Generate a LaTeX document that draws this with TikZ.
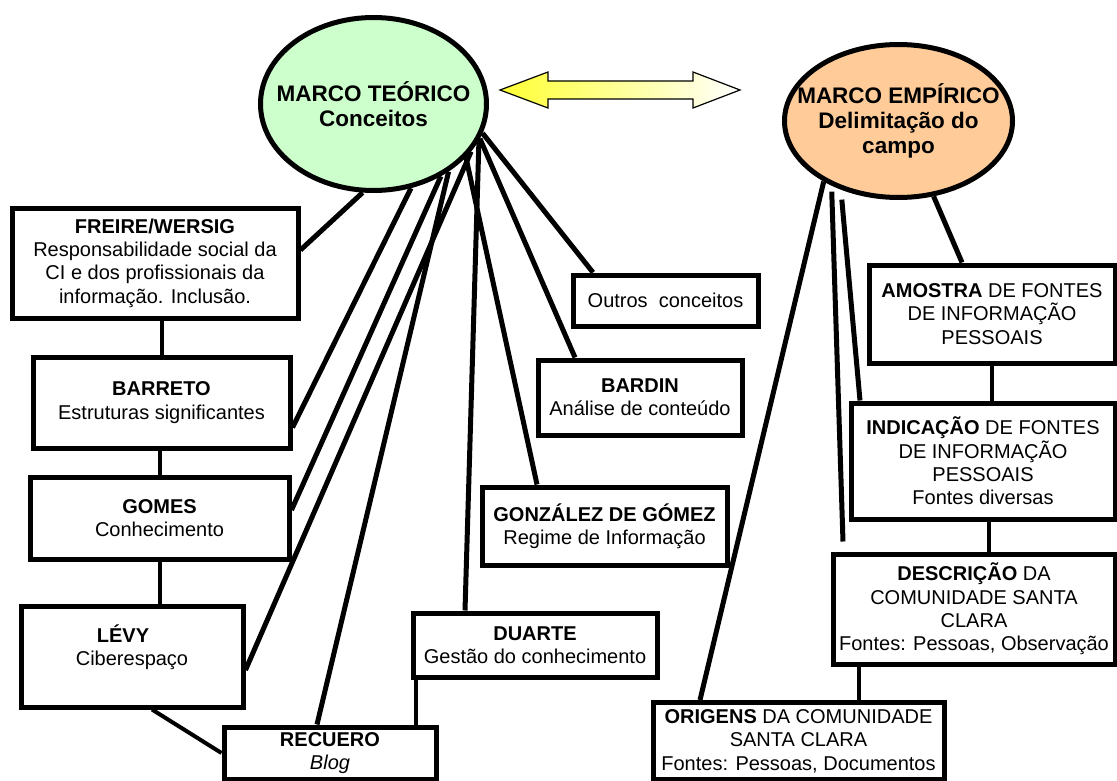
\documentclass[tikz,border=0pt]{standalone}
\usepackage{fontspec}
\setmainfont{Liberation Sans}
\usetikzlibrary{shapes.geometric}
\definecolor{teoricogreen}{RGB}{204,255,204}
\definecolor{empiricoorange}{RGB}{255,204,153}
\definecolor{arrowyellow}{RGB}{255,255,51}
\begin{document}
\begin{tikzpicture}[x=1pt,y=-1pt,line join=miter,
	box/.style={draw=black,line width=5pt,fill=white,align=center,inner sep=2pt,font=\fontsize{20}{23.3}\selectfont},
	marco/.style={ellipse,draw=black,line width=5pt,align=center,inner xsep=-40pt,inner ysep=0pt,font=\fontsize{22.5}{25}\selectfont\bfseries},
	ray/.style={line width=5pt},
	link/.style={line width=4pt}]
	\useasboundingbox[fill=white] (0,0) rectangle (1117,781);
	% elipses
	\node[marco,fill=teoricogreen,minimum width=226pt,minimum height=173pt] (mt) at (373.5,104) {MARCO TEÓRICO\\Conceitos};
	\node[marco,fill=empiricoorange,minimum width=228pt,minimum height=153pt] (me) at (898.5,121) {MARCO EMPÍRICO\\Delimitação do\\campo};
	\shade[left color=arrowyellow,right color=white,draw=black,line width=1.2pt] (500,90) -- (548,72) -- (548,81) -- (693,81) -- (693,72) -- (740,90) -- (693,108) -- (693,99) -- (548,99) -- (548,108) -- cycle;
	% marco teorico
	\node[box,minimum width=286pt,minimum height=110pt] (freire) at (155,263) {\textbf{FREIRE/WERSIG}\\Responsabilidade social da\\CI e dos profissionais da\\informação. Inclusão.};
	\node[box,minimum width=257pt,minimum height=91pt] (barreto) at (161.5,402.5) {\textbf{BARRETO}\\Estruturas significantes};
	\node[box,minimum width=259pt,minimum height=82pt] (gomes) at (159.5,518) {\textbf{GOMES}\\Conhecimento};
	\node[box,minimum width=222pt,minimum height=101pt] (levy) at (132,656.5) {\textbf{LÉVY}\hspace*{18pt}\\Ciberespaço\hspace*{18pt}\\\mbox{}};
	\node[box,minimum width=212pt,minimum height=52pt] (recuero) at (330,753) {\textbf{RECUERO}\\\textit{Blog}};
	\node[box,minimum width=244pt,minimum height=64pt] (duarte) at (535,645) {\textbf{DUARTE}\\Gestão do conhecimento};
	\node[box,minimum width=245pt,minimum height=78pt] (gonzalez) at (604.5,526) {\textbf{GONZÁLEZ DE GÓMEZ}\\Regime de Informação};
	\node[box,minimum width=204pt,minimum height=75pt] (bardin) at (640,397.5) {\textbf{BARDIN}\\Análise de conteúdo};
	\node[box,minimum width=185pt,minimum height=51pt] (outros) at (665.5,300.5) {Outros\ \ conceitos};
	% marco empirico
	\node[box,minimum width=246pt,minimum height=98pt] (amostra) at (992,314) {\textbf{AMOSTRA} DE FONTES\\DE INFORMAÇÃO\\PESSOAIS};
	\node[box,minimum width=264pt,minimum height=116pt] (indicacao) at (983,461) {\textbf{INDICAÇÃO} DE FONTES\\DE INFORMAÇÃO\\PESSOAIS\\Fontes diversas};
	\node[box,minimum width=282pt,minimum height=110pt] (descricao) at (974,609) {\textbf{DESCRIÇÃO} DA\\COMUNIDADE SANTA\\CLARA\\Fontes: Pessoas, Observação};
	\node[box,minimum width=291pt,minimum height=77pt] (origens) at (798.5,741) {\textbf{ORIGENS} DA COMUNIDADE\\SANTA CLARA\\Fontes: Pessoas, Documentos};
	% ligacoes
	\draw[ray] (mt.-97) -- ([yshift=13pt]freire.east);
	\draw[ray] (mt.-66) -- ([yshift=-25pt]barreto.east);
	\draw[ray] (mt.-47) -- ([yshift=8pt]gomes.east);
	\draw[ray] (mt.-26) -- ([yshift=-13.5pt]levy.east);
	\draw[ray] (mt.-42) -- ([xshift=-13pt]recuero.north);
	\draw[ray] (mt.-30) -- ([xshift=-67.5pt]gonzalez.north);
	\draw[ray] (mt.-19) -- ([xshift=-70pt]duarte.north);
	\draw[ray] (mt.-18) -- ([xshift=-65pt]bardin.north);
	\draw[ray] (mt.-15) -- ([xshift=-72.5pt]outros.north);
	\draw[ray] (me.-141) -- ([xshift=-98.5pt]origens.north);
	\draw[ray,shorten <=6pt] (me.-136) -- ([xshift=-131pt,yshift=10pt]descricao.north);
	\draw[ray,shorten <=10pt] (me.-130) -- ([xshift=-123pt]indicacao.north);
	\draw[ray] (me.-65) -- ([xshift=-30pt]amostra.north);
	\draw[link] (barreto.north) -- (barreto.north |- freire.south);
	\draw[link] (gomes.north) -- (gomes.north |- barreto.south);
	\draw[link] (gomes.south) -- (gomes.south |- levy.north);
	\draw[link] ([xshift=20pt]levy.south) -- (recuero.west);
	\draw[link] ([xshift=5pt]duarte.south west) -- ([xshift=5pt]duarte.south west |- recuero.north);
	\draw[link] (amostra.south) -- (amostra.south |- indicacao.north);
	\draw[link] ([xshift=6pt]indicacao.south) -- ([xshift=6pt]indicacao.south |- descricao.north);
	\draw[link] ([xshift=28pt]descricao.south west) -- ([xshift=28pt]descricao.south west |- origens.north);
\end{tikzpicture}
\end{document}
